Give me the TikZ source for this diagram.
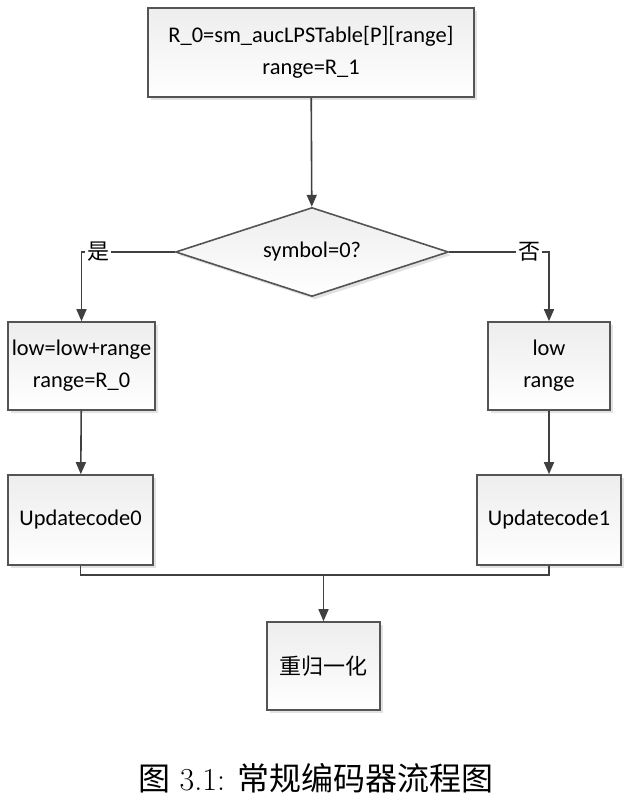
\documentclass[tikz,border=0pt]{standalone}
\usepackage{fontspec}
\usepackage{tikz}
\usetikzlibrary{arrows.meta}
\usetikzlibrary{positioning}
\usetikzlibrary{shapes.geometric}
\usetikzlibrary{shadows}
\newfontfamily\calibri{Carlito}
\newfontfamily\cjk{Noto Sans CJK SC}
\definecolor{mgray}{rgb}{0.33, 0.33, 0.33}
\definecolor{mline}{rgb}{0.25, 0.25, 0.25}
\tikzset{procbox/.style = {draw=mgray, thick, top color=gray!14, bottom color=white,
                           drop shadow={shadow xshift=1.5pt, shadow yshift=-1.5pt, fill=gray!45},
                           align=center, inner sep=0pt,
                           font=\calibri\fontsize{11.2}{16}\selectfont},
         decision/.style = {procbox, diamond, shape aspect=3},
         flow/.style = {draw=mline, thick, -{Triangle[length=6pt, width=5pt]}},
         joint/.style = {draw=mline, thick},
         branch/.style = {fill=white, inner sep=1pt, font=\cjk\fontsize{11}{13}\selectfont}}

\begin{document}
\begin{tikzpicture}[x=0.5pt, y=-0.5pt]
    \useasboundingbox (0, 0) rectangle (633, 807);

    \node [procbox, minimum width=163pt, minimum height=44.5pt] (init) at (311, 52.5)
        {R\_0=sm\_aucLPSTable[P][range]\\range=R\_1};
    \node [decision, minimum width=136.5pt, minimum height=44.5pt] (test) at (312, 252) {symbol=0?};

    \node [procbox, minimum width=73.5pt, minimum height=44pt] (yesbox) at (81.5, 366)
        {low=low+range\\range=R\_0};
    \node [procbox, minimum width=61pt, minimum height=44pt] (nobox) at (549, 366) {low\\range};

    \node [procbox, minimum width=72.5pt, minimum height=45pt] (upd0) at (80.5, 520) {Updatecode0};
    \node [procbox, minimum width=72pt, minimum height=45pt] (upd1) at (549, 520) {Updatecode1};

    \node [procbox, minimum width=56.5pt, minimum height=44pt, font=\cjk\fontsize{11}{16}\selectfont]
        (norm) at (323.5, 666) {重归一化};

    \coordinate (join) at (323.5, 575);

    \draw [flow] (init) -- (test);
    \draw [flow] (test.west) -| node [pos=0.41, branch] {是} (yesbox.north);
    \draw [flow] (test.east) -| node [pos=0.4, branch] {否} (nobox.north);
    \draw [flow] (yesbox) -- (upd0);
    \draw [flow] (nobox) -- (upd1);
    \draw [joint] (upd0.south) |- (join) -| (upd1.south);
    \draw [flow] (join) -- (norm);

    \node [font=\fontsize{16}{18}\selectfont] (caption) at (316, 778)
        {{\cjk 图} 3.1: {\cjk 常规编码器流程图}};
\end{tikzpicture}
\end{document}
